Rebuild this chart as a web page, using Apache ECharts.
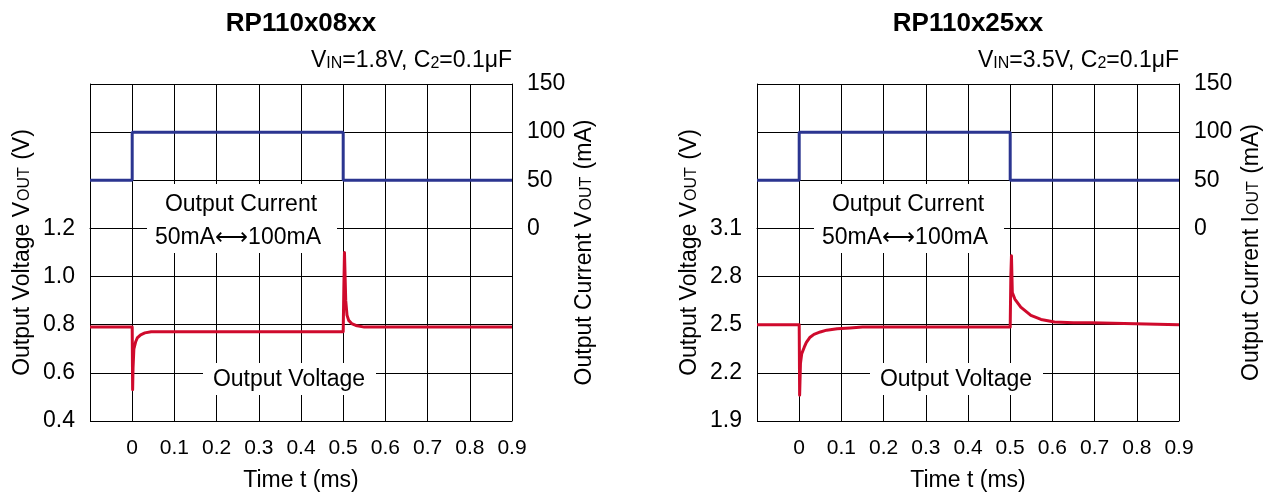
<!DOCTYPE html>
<html><head><meta charset="utf-8">
<script src="https://cdn.jsdelivr.net/npm/echarts@6/dist/echarts.min.js"></script>
<style>html,body{margin:0;padding:0;background:#fff}#c{width:1275px;height:497px}</style>
</head><body><div id="c"></div>
<script>
// ---- data ----
const chartTitles = ['RP110x08xx', 'RP110x25xx'];
const timeTicksMin = -0.1, timeTicksMax = 0.9;

// load current step (mA), same for both charts
const currentTime = [-0.1, 0, 0, 0.5, 0.5, 0.9];
const currentMA   = [50, 50, 100, 100, 50, 50];

// RP110x08xx output voltage (V)
const timeA = [-0.1, 0, 0.001, 0.002, 0.004, 0.008, 0.012, 0.02, 0.03, 0.045, 0.5, 0.5015, 0.503, 0.506, 0.509, 0.513, 0.52, 0.53, 0.55, 0.9];
const voltA = [0.79, 0.79, 0.53, 0.62, 0.70, 0.728, 0.745, 0.758, 0.766, 0.771, 0.771, 0.95, 1.10, 0.90, 0.84, 0.818, 0.805, 0.797, 0.79, 0.79];

// RP110x25xx output voltage (V)
const timeB = [-0.1, 0, 0.001, 0.003, 0.006, 0.012, 0.017, 0.025, 0.035, 0.05, 0.065, 0.09, 0.12, 0.15, 0.5, 0.5015, 0.503, 0.505, 0.511, 0.525, 0.549, 0.573, 0.605, 0.65, 0.692, 0.696, 0.9];
const voltB = [2.5, 2.5, 2.06, 2.26, 2.32, 2.36, 2.39, 2.42, 2.44, 2.455, 2.466, 2.475, 2.48, 2.485, 2.485, 2.80, 2.93, 2.70, 2.66, 2.61, 2.558, 2.533, 2.517, 2.513, 2.512, 2.5, 2.5];

const voltAxisA = {min: 0.4, max: 1.8, interval: 0.2, labelMax: 1.2};
const voltAxisB = {min: 1.9, max: 4.0, interval: 0.3, labelMax: 3.1};
const currAxis  = {min: -200, max: 150, interval: 50, labelMin: 0};

const conditions = [['1.8V', '0.1μF'], ['3.5V', '0.1μF']];
const currentNames = ['V', 'I'];

// ---- styling ----
const FONT = '"Liberation Sans", Arial, Helvetica, sans-serif';
const BLUE = '#2b3590';
const RED = '#cf0a2c';
const grids = [{left: 90, top: 84, width: 422, height: 343}, {left: 757, top: 84, width: 422, height: 343}];

function xAxisFor(gi) {
  return {
    type: 'value', gridIndex: gi, min: timeTicksMin, max: timeTicksMax, interval: 0.1,
    axisLine: {show: true, lineStyle: {color: '#000', width: 1}},
    axisTick: {show: false},
    splitLine: {show: true, lineStyle: {color: '#000', width: 1}},
    axisLabel: {color: '#000', fontSize: 21, fontFamily: FONT, margin: 17,
      formatter: v => (v < -0.05 ? '' : (Math.abs(v) < 1e-9 ? '0' : v.toFixed(1)))},
    name: 'Time t (ms)', nameLocation: 'middle', nameGap: 48,
    nameTextStyle: {color: '#000', fontSize: 23, fontFamily: FONT}
  };
}
function voltAxisFor(gi, ax) {
  return {
    type: 'value', gridIndex: gi, position: 'left', min: ax.min, max: ax.max, interval: ax.interval,
    axisLine: {show: true, onZero: false, lineStyle: {color: '#000', width: 1}},
    axisTick: {show: false},
    splitLine: {show: true, lineStyle: {color: '#000', width: 1}},
    axisLabel: {color: '#000', fontSize: 23, fontFamily: FONT, margin: 15,
      formatter: v => (v > ax.labelMax + 1e-6 ? '' : v.toFixed(1))},
    name: '{a|Output Voltage V}{s|OUT}{a| (V)}', nameLocation: 'middle', nameGap: 56, nameRotate: 90,
    nameTextStyle: {color: '#000', fontFamily: FONT,
      rich: {a: {fontSize: 23, fontFamily: FONT, color: '#000', verticalAlign: 'bottom'},
             s: {fontSize: 16, fontFamily: FONT, color: '#000', verticalAlign: 'bottom', padding: [0, 1, 1, 1]}}}
  };
}
function currAxisFor(gi, letter) {
  return {
    type: 'value', gridIndex: gi, position: 'right', min: currAxis.min, max: currAxis.max, interval: currAxis.interval,
    axisLine: {show: true, onZero: false, lineStyle: {color: '#000', width: 1}},
    axisTick: {show: false},
    splitLine: {show: false},
    axisLabel: {color: '#000', fontSize: 23, fontFamily: FONT, margin: 15,
      formatter: v => (v < currAxis.labelMin - 1e-6 ? '' : String(v))},
    name: '{a|Output Current ' + letter + '}{s|OUT}{a| (mA)}', nameLocation: 'middle', nameGap: 61, nameRotate: 90,
    nameTextStyle: {color: '#000', fontFamily: FONT,
      rich: {a: {fontSize: 23, fontFamily: FONT, color: '#000', verticalAlign: 'bottom'},
             s: {fontSize: 16, fontFamily: FONT, color: '#000', verticalAlign: 'bottom', padding: [0, 1, 1, 1]}}}
  };
}
function pairs(xs, ys) { return xs.map((x, i) => [x, ys[i]]); }

const TS = {fill: '#000', fontFamily: FONT};
function titleTexts(idx, cx, rightX, cond) {
  return [
    {type: 'text', x: cx, y: 24, z: 100,
      style: Object.assign({text: chartTitles[idx], fontSize: 26, fontWeight: 'bold', align: 'center', verticalAlign: 'middle'}, TS)},
    {type: 'text', x: rightX, y: 61, z: 100,
      style: Object.assign({text: '{a|V}{s|IN}{a|=' + cond[0] + ', C}{t|2}{a|=' + cond[1] + '}', align: 'right', verticalAlign: 'middle',
        rich: {a: {fontSize: 23, fontFamily: FONT, fill: '#000', verticalAlign: 'bottom'},
               s: {fontSize: 16, fontFamily: FONT, fill: '#000', verticalAlign: 'bottom', padding: [0, 0, 1, 0]},
               t: {fontSize: 16, fontFamily: FONT, fill: '#000', verticalAlign: 'bottom', padding: [0, 0, 1, 0]}}}, TS)}
  ];
}
function annot(x0) {
  // x0 = pixel offset of the chart's t=0 line
  return [
    {type: 'rect', z: 100, shape: {x: x0 + 15, y: 184, width: 190, height: 69}, style: {fill: '#fff'}},
    {type: 'text', z: 101, x: x0 + 109, y: 205, style: Object.assign({text: 'Output Current', fontSize: 23, align: 'center', verticalAlign: 'middle'}, TS)},
    {type: 'text', z: 101, x: x0 + 106, y: 238, style: Object.assign({text: '50mA⟷100mA', fontSize: 23, align: 'center', verticalAlign: 'middle'}, TS)},
    {type: 'rect', z: 100, shape: {x: x0 + 71, y: 363, width: 173, height: 32}, style: {fill: '#fff'}},
    {type: 'text', z: 101, x: x0 + 157, y: 380, style: Object.assign({text: 'Output Voltage', fontSize: 23, align: 'center', verticalAlign: 'middle'}, TS)}
  ];
}

const option = {
  animation: false,
  backgroundColor: '#fff',
  textStyle: {fontFamily: FONT},
  grid: grids,
  xAxis: [xAxisFor(0), xAxisFor(1)],
  yAxis: [voltAxisFor(0, voltAxisA), currAxisFor(0, currentNames[0]), voltAxisFor(1, voltAxisB), currAxisFor(1, currentNames[1])],
  series: [
    {type: 'line', xAxisIndex: 0, yAxisIndex: 1, data: pairs(currentTime, currentMA), symbol: 'none', lineStyle: {color: BLUE, width: 3}, z: 3},
    {type: 'line', xAxisIndex: 0, yAxisIndex: 0, data: pairs(timeA, voltA), symbol: 'none', lineStyle: {color: RED, width: 3, join: 'round'}, z: 4},
    {type: 'line', xAxisIndex: 1, yAxisIndex: 3, data: pairs(currentTime, currentMA), symbol: 'none', lineStyle: {color: BLUE, width: 3}, z: 3},
    {type: 'line', xAxisIndex: 1, yAxisIndex: 2, data: pairs(timeB, voltB), symbol: 'none', lineStyle: {color: RED, width: 3, join: 'round'}, z: 4}
  ],
  graphic: [].concat(titleTexts(0, 301, 512, conditions[0]), titleTexts(1, 968, 1179, conditions[1]), annot(132), annot(799))
};
const chart = echarts.init(document.getElementById('c'), null, {renderer: 'canvas'});
chart.setOption(option);
</script></body></html>
